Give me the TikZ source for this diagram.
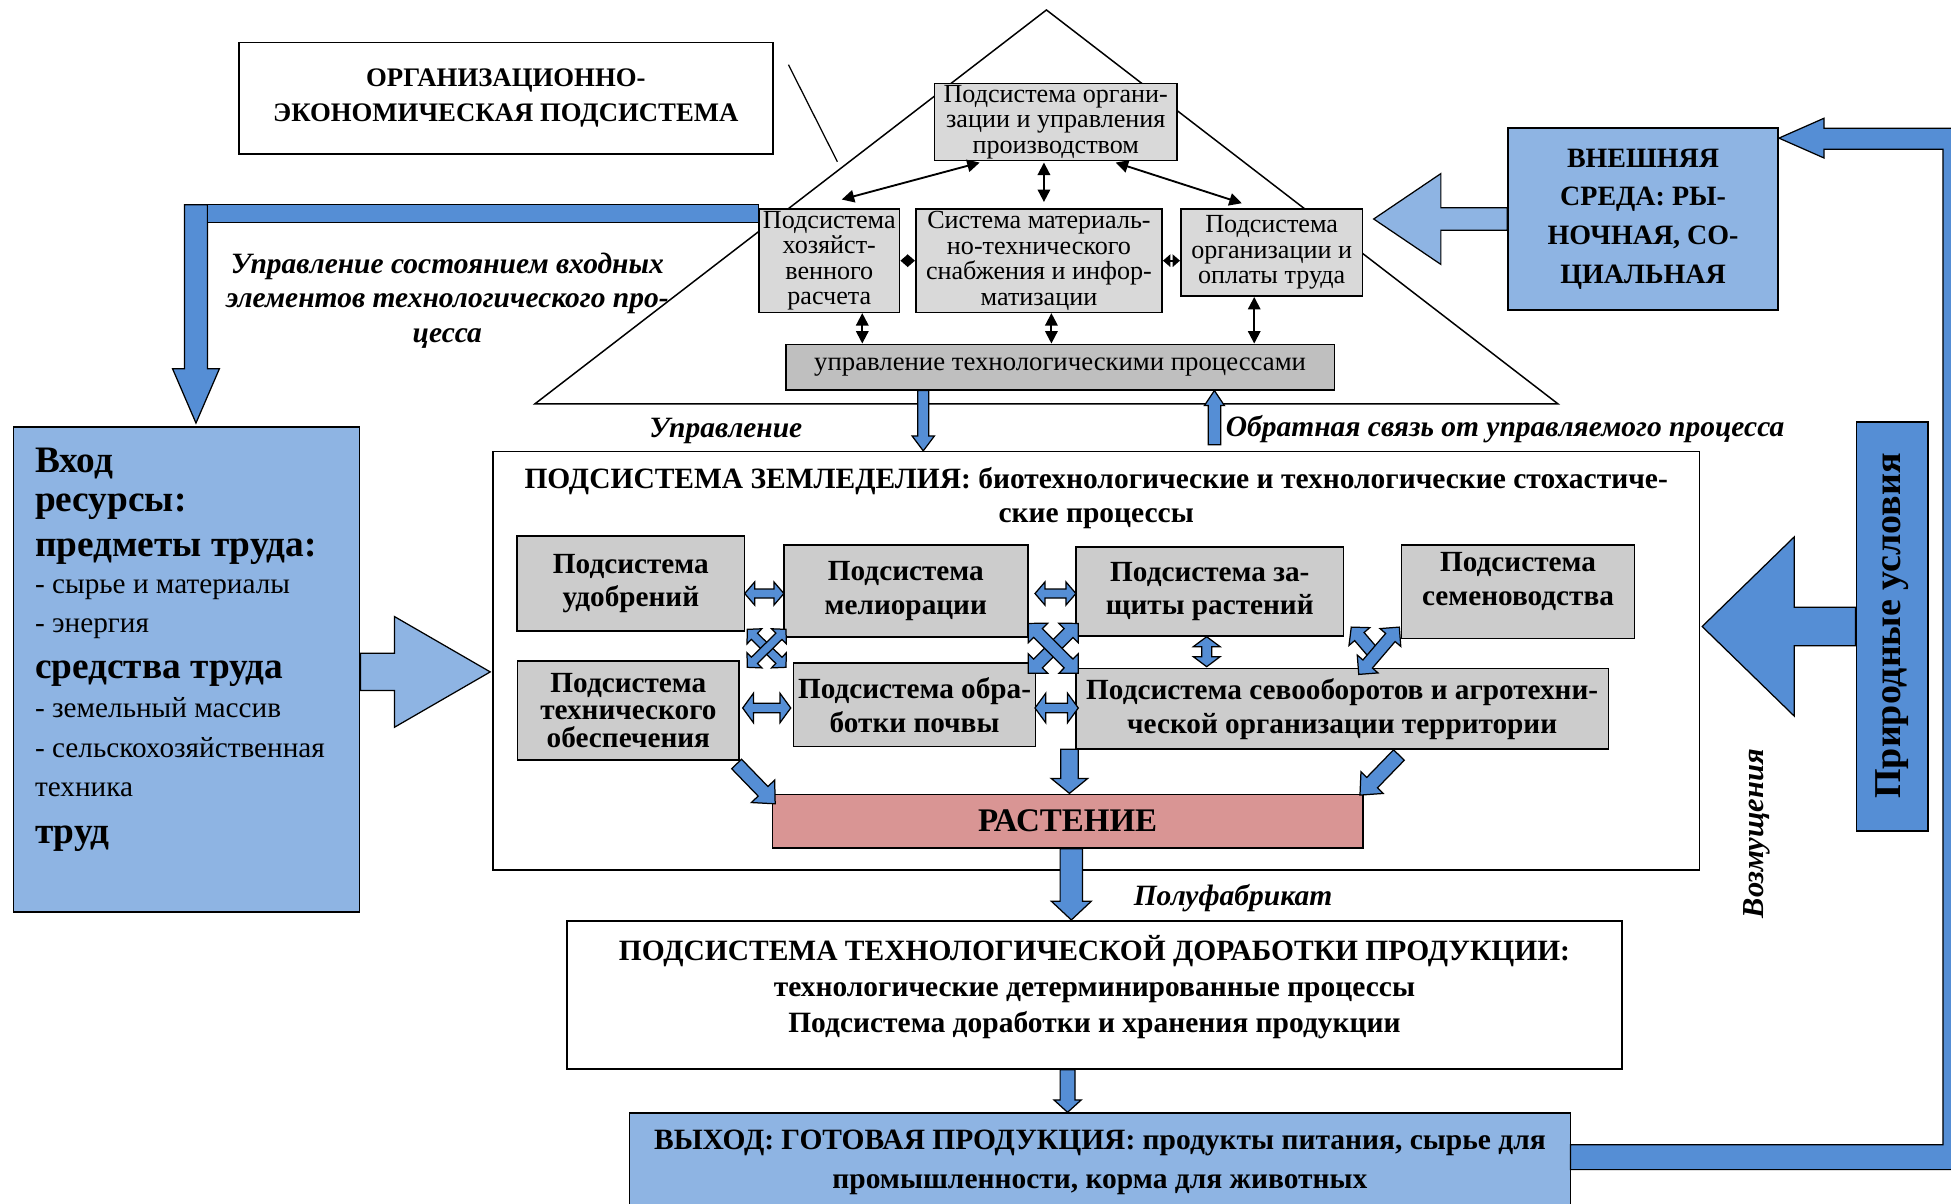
\documentclass[tikz,border=0pt]{standalone}
\usepackage{fontspec}
\setmainfont{Liberation Serif}
\usetikzlibrary{calc,arrows.meta}

\definecolor{lightblue}{RGB}{142,180,227}
\definecolor{midblue}{RGB}{85,142,213}
\definecolor{greytop}{RGB}{217,217,217}
\definecolor{greydark}{RGB}{191,191,191}
\definecolor{greymid}{RGB}{204,204,204}
\definecolor{rosered}{RGB}{217,149,148}

% block arrow: [style]{from}{to}{half shaft}{half head}{head length}
\newcommand\BlockArrow[6][]{%
  \coordinate (bah) at ($(#3)!#6!(#2)$);
  \filldraw[blockarrow,#1] ($(#2)!#4!90:(#3)$) -- ($(bah)!#4!-90:(#2)$) -- ($(bah)!#5!-90:(#2)$) -- (#3)
    -- ($(bah)!#5!90:(#2)$) -- ($(bah)!#4!90:(#2)$) -- ($(#2)!#4!-90:(#3)$) -- cycle;}
% double-headed block arrow, same arguments
\newcommand\BlockArrowTwo[6][]{%
  \coordinate (bda) at ($(#2)!#6!(#3)$);
  \coordinate (bdb) at ($(#3)!#6!(#2)$);
  \filldraw[blockarrow,#1] (#2) -- ($(bda)!#5!90:(#3)$) -- ($(bda)!#4!90:(#3)$) -- ($(bdb)!#4!-90:(#2)$)
    -- ($(bdb)!#5!-90:(#2)$) -- (#3) -- ($(bdb)!#5!90:(#2)$) -- ($(bdb)!#4!90:(#2)$)
    -- ($(bda)!#4!-90:(#3)$) -- ($(bda)!#5!-90:(#3)$) -- cycle;}

\begin{document}
\begin{tikzpicture}[x=1pt,y=-1pt,
  box/.style={draw=black,line width=1.3pt,inner sep=0pt,align=center},
  topbox/.style={box,fill=greytop,font=\fontsize{21}{20.5}\selectfont},
  subbox/.style={box,fill=greymid,font=\bfseries\fontsize{23.5}{27}\selectfont},
  bluebox/.style={box,fill=lightblue},
  blockarrow/.style={fill=midblue,draw=black,line width=1pt,line join=miter},
  pale/.style={fill=lightblue},
  linkarrow/.style={line width=1.5pt,{Triangle[length=10pt,width=10pt]}-{Triangle[length=10pt,width=10pt]}},
  shortlink/.style={line width=1.5pt,{Triangle[length=6pt,width=10pt]}-{Triangle[length=6pt,width=10pt]}},
  caption/.style={font=\bfseries\itshape\fontsize{23.7}{27.5}\selectfont,inner sep=0pt,align=center},
  inlist/.style={anchor=base west,inner sep=0pt},
  inbold/.style={inlist,font=\bfseries\fontsize{30}{30}\selectfont},
  inplain/.style={inlist,font=\fontsize{23.5}{30}\selectfont},
  bigtext/.style={font=\bfseries\fontsize{23.7}{29}\selectfont,align=center,inner sep=0pt}
]
\useasboundingbox (0,0) rectangle (1568,967);
\clip (0,0) rectangle (1568,967);
\fill[white] (0,0) rectangle (1568,967);

% ---------- management triangle ----------
\coordinate (apex) at (841,8);
\coordinate (tl) at (430,324.5);
\coordinate (tr) at (1252,324.5);
\draw[line width=1.2pt] (apex) -- (tr) -- (tl) -- cycle;

\node[box,fill=white,minimum width=429,minimum height=90,font=\bfseries\fontsize{21.5}{28}\selectfont] (org) at (406.5,79)
  {ОРГАНИЗАЦИОННО-\\ЭКОНОМИЧЕСКАЯ ПОДСИСТЕМА};
\coordinate (orgptr) at (673,130);
\draw[line width=1pt] ($(org.east)+(12,-27)$) -- (orgptr);

\node[topbox,minimum width=195,minimum height=62] (porg) at (848.5,98) {Подсистема органи-\\зации и управления\\производством};
\node[topbox,minimum width=113,minimum height=83] (hoz) at (666.5,209.5) {Подсистема\\хозяйст-\\венного\\расчета};
\node[topbox,minimum width=198,minimum height=83] (snab) at (835,209.5) {Система материаль-\\но-технического\\снабжения и инфор-\\матизации};
\node[topbox,minimum width=146,minimum height=70] (opl) at (1022,203) {Подсистема\\организации и\\оплаты труда};
\node[box,fill=greydark,minimum width=441,minimum height=36.5,font=\fontsize{21.5}{20}\selectfont] (tpr) at (852,295) {управление технологическими процессами};

\draw[linkarrow] ($(porg.south west)+(37,1)$) -- ($(hoz.north)+(10,-7)$);
\draw[linkarrow] ($(porg.south)+(-9.5,1)$) -- ($(snab.north)+(4,-5)$);
\draw[linkarrow] ($(porg.south east)+(-50,1)$) -- ($(opl.north)+(-24,-4)$);
\draw[shortlink] (hoz.east) -- (snab.west);
\draw[shortlink] (snab.east) -- ($(opl.west)+(0,6.5)$);
\draw[linkarrow] ($(hoz.south)+(26.5,0)$) -- ($(tpr.north)+(-159,0)$);
\draw[linkarrow] ($(snab.south)+(10,0)$) -- ($(tpr.north)+(-7,0)$);
\draw[linkarrow] ($(opl.south)+(-14,0)$) -- ($(tpr.north)+(156,0)$);

% ---------- input ----------
\node[bluebox,minimum width=278,minimum height=390] (vhod) at (150,538) {};
\node[inbold] (in1) at (28,380) {Вход};
\node[inbold] (in2) at (28,411) {ресурсы:};
\node[inbold] (in3) at (28,447) {предметы труда:};
\node[inplain] (in4) at (28,477) {- сырье и материалы};
\node[inplain] (in5) at (28,508) {- энергия};
\node[inbold] (in6) at (28,545) {средства труда};
\node[inplain] (in7) at (28,577) {- земельный массив};
\node[inplain] (in8) at (28,609) {- сельскохозяйственная};
\node[inplain] (in9) at (28,640) {техника};
\node[inbold] (in10) at (28,678) {труд};

% control of the input elements
\coordinate (va) at (157.5,164.5);
\coordinate (vb) at (157.5,340);
\BlockArrow{va}{vb}{9.3pt}{18.8pt}{43.6pt}
\filldraw[blockarrow] (166.6,164.5) rectangle (hoz.west |- 0,179);
\node[caption] (ctrlin) at (359.5,241.5) {Управление состоянием входных\\элементов технологического про-\\цесса};

% ---------- agriculture subsystem ----------
\node[box,fill=white,minimum width=970,minimum height=336] (zeml) at (881,531) {};
\node[bigtext,font=\bfseries\fontsize{23.7}{27}\selectfont] (zemltitle) at (881,400.5)
  {ПОДСИСТЕМА ЗЕМЛЕДЕЛИЯ: биотехнологические и технологические стохастиче-\\ские процессы};

\coordinate (ia) at ($(vhod.east)+(0,2)$);
\coordinate (ib) at (394,540);
\BlockArrow[pale]{ia}{ib}{15pt}{44.5pt}{77pt}

\coordinate (ua) at ($(tpr.south)+(-110,0)$);
\coordinate (ub) at (ua |- zeml.north);
\BlockArrow{ua}{ub}{4.5pt}{9pt}{12pt}
\coordinate (fa) at ($(zeml.north)+(95,-5)$);
\coordinate (fb) at (fa |- tpr.south);
\BlockArrow{fa}{fb}{5pt}{8pt}{12pt}
\node[caption,anchor=east] (ctrl) at (645,346) {Управление};
\node[caption,anchor=west] (fback) at (985,345) {Обратная связь от управляемого процесса};

\node[subbox,minimum width=182.5,minimum height=76.5] (udob) at (507,469) {Подсистема\\удобрений};
\node[subbox,minimum width=196,minimum height=73.5] (melio) at (728,475) {Подсистема\\мелиорации};
\node[subbox,minimum width=215,minimum height=71.5] (zasch) at (972.3,475.3) {Подсистема за-\\щиты растений};
\node[subbox,minimum width=187.5,minimum height=75] (semen) at (1220,475.5) {};
\node[font=\bfseries\fontsize{23.5}{27}\selectfont,align=center,inner sep=0pt] (sementext) at (1220,467.5) {Подсистема\\семеноводства};
\node[subbox,minimum width=178,minimum height=80,font=\bfseries\fontsize{23.5}{22}\selectfont] (techob) at (505,571) {Подсистема\\технического\\обеспечения};
\node[subbox,minimum width=194.5,minimum height=67] (obrab) at (735,566.5) {Подсистема обра-\\ботки почвы};
\node[subbox,minimum width=428,minimum height=65] (sevoob) at (1078.7,569.7) {Подсистема севооборотов и агротехни-\\ческой организации территории};
\node[box,fill=rosered,minimum width=474.5,minimum height=43,font=\bfseries\fontsize{26.5}{27}\selectfont] (rast) at (858,660) {РАСТЕНИЕ};

% links between the subsystems
\coordinate (a1a) at (598.5,477);  \coordinate (a1b) at (630,477);
\BlockArrowTwo{a1a}{a1b}{3.6pt}{9.3pt}{8pt}
\coordinate (a2a) at (831.8,477);  \coordinate (a2b) at (864.7,477);
\BlockArrowTwo{a2a}{a2b}{3.6pt}{9.3pt}{8pt}
\coordinate (a3a) at (596.9,569);  \coordinate (a3b) at (635.5,569);
\BlockArrowTwo{a3a}{a3b}{3.8pt}{11.8pt}{8.6pt}
\coordinate (a4a) at (831.8,569);  \coordinate (a4b) at (866.6,569);
\BlockArrowTwo{a4a}{a4b}{3.8pt}{11.8pt}{8.6pt}
\coordinate (x1a) at (600.6,505.8); \coordinate (x1b) at (631.7,536.3);
\coordinate (x1c) at (600.6,536.3); \coordinate (x1d) at (631.7,505.8);
\BlockArrowTwo{x1a}{x1b}{3.5pt}{8.5pt}{8pt}
\BlockArrowTwo{x1c}{x1d}{3.5pt}{8.5pt}{8pt}
\coordinate (x2a) at (826.4,541); \coordinate (x2b) at (866.6,501);
\coordinate (x2c) at (826.4,501); \coordinate (x2d) at (866.6,541);
\BlockArrowTwo{x2a}{x2b}{5pt}{11pt}{11pt}
\BlockArrowTwo{x2c}{x2d}{5pt}{11pt}{11pt}
\coordinate (v1a) at (969.8,511.7); \coordinate (v1b) at (969.8,535.8);
\BlockArrowTwo{v1a}{v1b}{4pt}{10.7pt}{8pt}
\coordinate (y1a) at (1124.6,504); \coordinate (y1b) at (1092,542);
\coordinate (y1c) at (1104,525);   \coordinate (y1d) at (1086,504);
\BlockArrow{y1c}{y1d}{5pt}{11pt}{10pt}
\BlockArrowTwo{y1a}{y1b}{5pt}{11pt}{11pt}
\coordinate (r1a) at (592,614);    \coordinate (r1b) at (623,646);
\BlockArrow{r1a}{r1b}{5.5pt}{13pt}{14pt}
\coordinate (r2a) at (859.5,602.2); \coordinate (r2b) at (859.5,637.6);
\BlockArrow{r2a}{r2b}{7pt}{14.7pt}{12pt}
\coordinate (r3a) at (1124.3,606.8); \coordinate (r3b) at (1093,639);
\BlockArrow{r3a}{r3b}{6pt}{12.5pt}{14pt}

% ---------- processing and output ----------
\node[box,fill=white,minimum width=848,minimum height=119] (dorab) at (879.6,799.5) {};
\node[bigtext] (dorabtext) at (879.6,793.5)
  {ПОДСИСТЕМА ТЕХНОЛОГИЧЕСКОЙ ДОРАБОТКИ ПРОДУКЦИИ:\\технологические детерминированные процессы\\Подсистема доработки и хранения продукции};
\node[bluebox,minimum width=756.2,minimum height=100] (vyhod) at (884.1,944.6) {};
\node[bigtext,font=\bfseries\fontsize{23.7}{31}\selectfont] (vyhodtext) at (884,934)
  {ВЫХОД: ГОТОВАЯ ПРОДУКЦИЯ: продукты питания, сырье для\\промышленности, корма для животных};

\coordinate (pa) at ($(rast.south)+(3,0)$);
\coordinate (pb) at (pa |- dorab.north);
\BlockArrow{pa}{pb}{9pt}{16pt}{15pt}
\node[caption,anchor=west] (semi) at (911,722) {Полуфабрикат};
\coordinate (oa) at ($(dorab.south)+(-21.6,0)$);
\coordinate (ob) at (oa |- vyhod.north);
\BlockArrow{oa}{ob}{6pt}{11pt}{10pt}

% ---------- environment ----------
\node[bluebox,minimum width=217,minimum height=146,font=\bfseries\fontsize{22.5}{31}\selectfont] (vnesh) at (1320.5,176)
  {ВНЕШНЯЯ\\СРЕДА: РЫ-\\НОЧНАЯ, СО-\\ЦИАЛЬНАЯ};
\coordinate (ea) at (vnesh.west);
\coordinate (eb) at (1104,176);
\BlockArrow[pale]{ea}{eb}{9pt}{36.5pt}{54pt}

% feedback loop from the output to the environment
\coordinate (loopin) at (1262.2,930);
\coordinate (loopout) at (1429.7,111);
\filldraw[blockarrow] (1262.2,920) -- (1561.5,920) -- (1561.5,120) -- (1466,120) -- (1466,127) -- (loopout)
  -- (1466,95) -- (1466,103) -- (1580,103) -- (1580,940) -- (1262.2,940) -- cycle;

\node[box,fill=midblue,minimum width=57.5,minimum height=329] (prir) at (1520.7,503.5) {};
\node[rotate=90,font=\bfseries\fontsize{30.5}{30}\selectfont,inner sep=0pt] (prirtext) at (1521,503) {Природные условия};
\coordinate (na) at (prir.west);
\coordinate (nb) at (1368,503.5);
\BlockArrow{na}{nb}{15.5pt}{72pt}{74pt}
\node[caption,rotate=90,font=\bfseries\itshape\fontsize{24.5}{27}\selectfont] (vozm) at (1412,670) {Возмущения};
\end{tikzpicture}
\end{document}
